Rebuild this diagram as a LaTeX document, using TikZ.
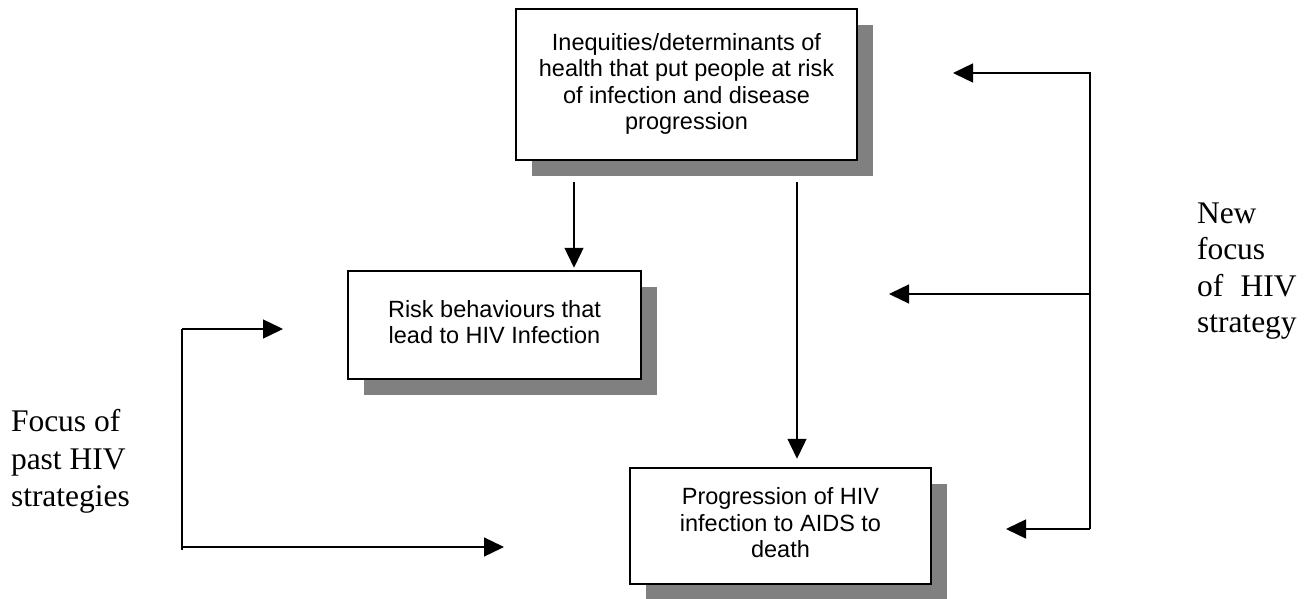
\documentclass[tikz,border=0pt]{standalone}
\usepackage{fontspec}
\setmainfont{Liberation Serif}
\newfontfamily\boxfont{Liberation Sans}
\usetikzlibrary{arrows.meta,shadows}
\definecolor{shadowgray}{HTML}{808080}
\newlength\captionwd

\begin{document}
\begin{tikzpicture}[x=1pt,y=-1pt,
  flowbox/.style={draw=black, line width=1.6pt, fill=white, rectangle,
    inner sep=0pt, outer sep=0pt, align=center,
    font=\boxfont\fontsize{23.5}{26.5}\selectfont,
    drop shadow={shadow xshift=16pt, shadow yshift=-16pt,
      fill=shadowgray, opacity=1, draw=none}},
  sidetext/.style={anchor=north west, inner sep=0pt, outer sep=0pt,
    align=left, font=\fontsize{31.5}{37.5}\selectfont},
  link/.style={draw=black, line width=1.4pt},
  arrow/.style={link, -{Triangle[length=20pt,width=19pt]}}
]
\useasboundingbox (0,0) rectangle (1307,599);

% the three boxes of the causal chain
\node[flowbox, minimum width=341.5pt, minimum height=151.5pt] (ineq) at (686.5,84.5)
  {\raisebox{6pt}{\begin{tabular}{@{}c@{}}Inequities/determinants of\\health that put people at risk\\of infection and disease\\progression\end{tabular}}};
\node[flowbox, minimum width=293.5pt, minimum height=108.5pt] (risk) at (494.5,325)
  {\raisebox{14pt}{\begin{tabular}{@{}c@{}}Risk behaviours that\\lead to HIV Infection\end{tabular}}};
\node[flowbox, minimum width=301.5pt, minimum height=116.5pt] (prog) at (780.5,526)
  {\raisebox{-5pt}{\begin{tabular}{@{}c@{}}Progression of HIV\\infection to AIDS to\\death\end{tabular}}};

% arrows from the determinants box
\coordinate (d1) at (574,182);
\coordinate (d2) at (797,182);
\draw[arrow, shorten >=3pt] (d1) -- (d1 |- risk.north);
\draw[arrow, shorten >=9pt] (d2) -- (d2 |- prog.north);

% bracket for the past strategies
\coordinate (lt) at (182,329);
\coordinate (lb) at (182,550);
\coordinate (lbs) at (183,547);
\coordinate (ltip1) at (283,329);
\coordinate (ltip2) at (504,547);
\draw[link] (lt) -- (lb);
\draw[arrow] (lt) -- (ltip1);
\draw[arrow] (lbs) -- (ltip2);

% bracket for the new strategy
\coordinate (rt) at (1090,72);
\coordinate (rts) at (1090,73);
\coordinate (rm) at (1090,294);
\coordinate (rb) at (1090,529);
\coordinate (rtip1) at (953,73);
\coordinate (rtip2) at (889,294);
\coordinate (rtip3) at (1006,529);
\draw[link] (rt) -- (rb);
\draw[arrow] (rts) -- (rtip1);
\draw[arrow] (rm) -- (rtip2);
\draw[arrow] (rb) -- (rtip3);

% side captions
\node[sidetext] (past) at (11,409.75) {Focus of\\past HIV\\strategies};
\node[sidetext, font=\fontsize{31.5}{36.5}\selectfont] (new) at (1197,202.5)
  {New\\focus\\\settowidth{\captionwd}{strategy}\makebox[\captionwd][s]{of\hfill HIV}\\strategy};
\end{tikzpicture}
\end{document}
